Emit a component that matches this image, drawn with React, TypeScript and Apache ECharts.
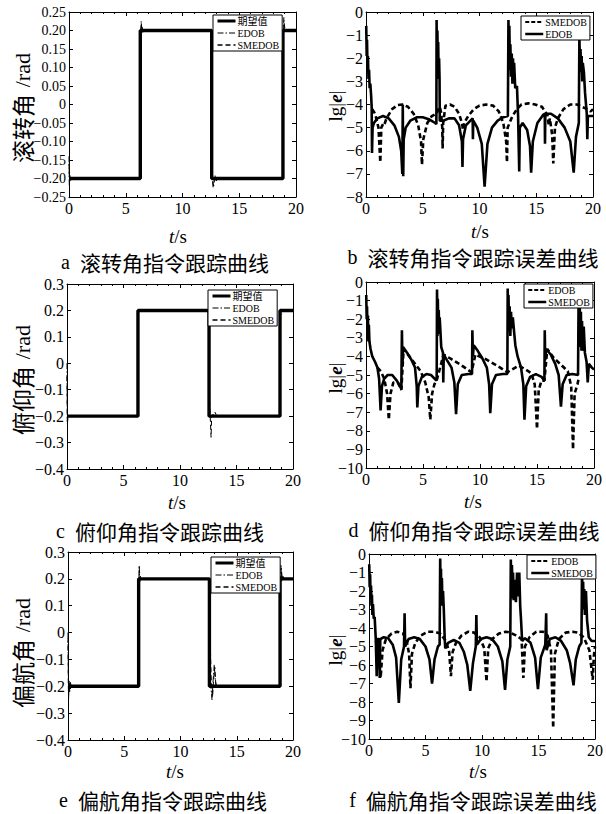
import React, { useEffect, useRef } from "react";
import * as echarts from "echarts";

// ---------- data (t in s) ----------
const desiredT = [0, 6.28, 6.28, 12.57, 12.57, 18.85, 18.85, 20];
const desiredV = [-0.2, -0.2, 0.2, 0.2, -0.2, -0.2, 0.2, 0.2];

const rollEDOB = [[0,-0.14],[0.03,-0.22],[0.08,-0.19],[0.15,-0.205],[0.3,-0.2],[6.28,-0.2],[6.33,0.2],[6.36,0.225],[6.4,0.21],[6.5,0.195],[6.6,0.2],[12.57,0.2],[12.6,0.0],[12.62,-0.2],[12.7,-0.225],[12.8,-0.205],[12.9,-0.195],[13.1,-0.2],[18.85,-0.2],[18.9,0.2],[18.93,0.235],[18.97,0.2],[19.1,0.2],[20,0.2]];
const rollSMEDOB = [[0,-0.16],[0.04,-0.21],[0.1,-0.2],[6.28,-0.2],[6.32,0.2],[6.4,0.215],[6.5,0.2],[12.57,0.2],[12.62,-0.2],[12.75,-0.22],[12.85,-0.19],[12.95,-0.21],[13.05,-0.2],[18.85,-0.2],[18.9,0.2],[18.95,0.22],[19.05,0.2],[20,0.2]];

const pitchEDOB = [[0,0.0],[0.03,-0.22],[0.1,-0.195],[0.2,-0.2],[6.28,-0.2],[6.33,0.2],[6.38,0.205],[6.5,0.2],[12.57,0.2],[12.62,-0.2],[12.8,-0.2],[13.0,-0.19],[13.1,-0.185],[13.2,-0.195],[13.3,-0.2],[18.85,-0.2],[18.9,0.18],[19.1,0.195],[19.2,0.2],[20,0.2]];
const pitchSMEDOB = [[0,-0.05],[0.03,-0.23],[0.1,-0.2],[6.28,-0.2],[6.33,0.2],[12.57,0.2],[12.62,-0.15],[12.75,-0.28],[12.8,-0.2],[12.9,-0.195],[13.0,-0.2],[18.85,-0.2],[18.9,0.19],[19.0,0.2],[20,0.2]];

const yawEDOB = [[0,0.0],[0.05,-0.25],[0.1,-0.18],[0.15,-0.22],[0.2,-0.185],[0.3,-0.2],[6.28,-0.2],[6.3,0.2],[6.33,0.25],[6.38,0.19],[6.45,0.21],[6.55,0.2],[12.57,0.2],[12.6,-0.1],[12.7,-0.2],[12.8,-0.25],[12.9,-0.18],[13.0,-0.12],[13.1,-0.18],[13.2,-0.2],[18.85,-0.2],[18.9,0.2],[18.93,0.25],[19.0,0.19],[19.1,0.21],[19.2,0.2],[20,0.2]];
const yawSMEDOB = [[0,-0.02],[0.04,-0.23],[0.1,-0.19],[0.2,-0.21],[0.3,-0.2],[6.28,-0.2],[6.31,0.2],[6.35,0.23],[6.42,0.2],[12.57,0.2],[12.65,-0.05],[12.75,-0.2],[12.85,-0.24],[12.95,-0.17],[13.05,-0.13],[13.15,-0.2],[18.85,-0.2],[18.9,0.2],[18.95,0.24],[19.05,0.2],[20,0.2]];

const rollErrEDOB = [[0.02,-0.6],[0.06,-1.9],[0.09,-1.2],[0.13,-2.4],[0.17,-1.9],[0.22,-2.9],[0.27,-2.5],[0.32,-3.3],[0.38,-3.1],[0.45,-3.6],[0.5,-4.1],[0.53,-6.1],[0.58,-5.0],[0.7,-4.8],[1.0,-4.6],[1.5,-4.5],[2.0,-4.6],[2.5,-4.9],[2.9,-5.4],[3.1,-6.0],[3.2,-7.0],[3.24,-4.0],[3.28,-7.1],[3.32,-5.5],[3.5,-5.0],[3.9,-4.7],[4.5,-4.55],[5.0,-4.55],[5.6,-4.65],[6.1,-4.8],[6.2,-4.85],[6.22,-0.35],[6.26,-2.8],[6.29,-0.8],[6.33,-2.4],[6.36,-1.3],[6.4,-2.9],[6.44,-2.0],[6.48,-2.9],[6.5,-4.7],[6.8,-4.7],[7.3,-4.6],[7.8,-4.6],[8.2,-4.9],[8.45,-5.6],[8.5,-6.7],[8.55,-5.5],[8.8,-4.9],[9.2,-4.7],[9.4,-4.6],[9.42,-5.5],[9.45,-4.7],[9.8,-5.0],[10.2,-5.7],[10.45,-7.55],[10.7,-5.7],[11.1,-5.0],[11.6,-4.7],[12.1,-4.55],[12.5,-4.5],[12.55,-0.35],[12.6,-2.2],[12.63,-0.6],[12.68,-2.5],[12.72,-1.4],[12.78,-2.8],[12.84,-1.8],[12.9,-3.1],[12.95,-2.0],[13.0,-3.0],[13.05,-2.2],[13.15,-3.3],[13.3,-3.2],[13.4,-4.5],[13.5,-6.9],[13.55,-5.0],[13.8,-4.8],[14.2,-5.1],[14.45,-5.8],[14.55,-6.95],[14.7,-5.6],[15.1,-4.8],[15.6,-4.45],[15.75,-4.4],[15.77,-5.7],[15.8,-4.4],[16.3,-4.4],[16.9,-4.6],[17.5,-5.0],[18.0,-5.6],[18.3,-6.95],[18.5,-5.4],[18.75,-4.8],[18.8,-1.0],[18.85,-2.4],[18.9,-1.6],[18.95,-2.6],[19.0,-1.9],[19.05,-3.0],[19.1,-2.2],[19.2,-2.6],[19.3,-3.5],[19.45,-4.4],[19.5,-5.5],[19.55,-4.5],[20,-4.5]];
const rollErrSMEDOB = [[0.55,-4.2],[0.8,-4.4],[1.1,-5.0],[1.26,-6.5],[1.35,-5.0],[1.5,-4.85],[1.6,-4.9],[1.8,-4.6],[2.3,-4.2],[2.8,-4.02],[3.2,-4.0],[3.7,-4.1],[4.2,-4.4],[4.6,-4.9],[4.85,-5.6],[4.93,-6.6],[5.05,-5.5],[5.4,-4.8],[5.8,-4.5],[6.2,-4.4],[6.5,-4.1],[6.6,-4.3],[6.72,-5.0],[6.75,-5.9],[6.8,-4.8],[7.0,-4.05],[7.4,-4.0],[7.8,-4.1],[8.2,-4.4],[8.45,-4.8],[8.55,-5.1],[8.65,-4.8],[9.0,-4.5],[9.5,-4.2],[10.0,-4.05],[10.6,-4.0],[11.2,-4.05],[11.7,-4.3],[12.1,-4.8],[12.35,-5.6],[12.42,-6.5],[12.48,-5.0],[12.9,-4.5],[13.3,-4.2],[13.7,-4.0],[14.3,-3.95],[14.9,-4.0],[15.5,-4.1],[15.9,-4.4],[16.0,-4.5],[16.1,-4.9],[16.2,-4.6],[16.4,-5.3],[16.5,-6.55],[16.65,-5.0],[16.9,-4.6],[17.4,-4.2],[18.0,-4.0],[18.6,-4.0],[19.0,-4.1],[19.5,-4.2],[19.8,-4.3],[20,-4.2]];

const pitchErrSMEDOB = [[0.02,-0.7],[0.06,-2.0],[0.09,-1.3],[0.13,-2.6],[0.17,-1.8],[0.21,-3.2],[0.25,-2.3],[0.3,-3.2],[0.4,-3.6],[0.55,-4.0],[0.8,-4.3],[1.0,-4.6],[1.15,-5.2],[1.28,-6.9],[1.4,-5.6],[1.6,-5.2],[1.9,-5.0],[2.3,-5.0],[2.7,-5.3],[3.1,-5.75],[3.15,-2.6],[3.2,-4.5],[3.25,-3.5],[3.6,-3.8],[4.0,-4.2],[4.3,-4.6],[4.45,-5.6],[4.5,-6.75],[4.6,-5.6],[4.9,-5.1],[5.3,-4.95],[5.7,-5.0],[6.1,-5.25],[6.2,-5.3],[6.23,-0.4],[6.27,-2.9],[6.3,-0.9],[6.34,-2.5],[6.38,-1.5],[6.42,-2.8],[6.46,-1.9],[6.5,-2.3],[6.6,-3.5],[6.75,-3.8],[6.78,-5.4],[6.82,-3.9],[7.1,-4.2],[7.5,-4.6],[7.75,-5.4],[7.9,-7.1],[8.05,-5.5],[8.4,-5.0],[9.0,-4.95],[9.3,-4.95],[9.33,-2.6],[9.38,-4.0],[9.45,-3.4],[9.8,-3.7],[10.2,-4.1],[10.6,-4.6],[10.8,-5.5],[10.9,-7.05],[11.05,-5.5],[11.4,-5.0],[12.0,-4.95],[12.4,-4.95],[12.43,-0.35],[12.47,-2.3],[12.5,-0.7],[12.55,-2.6],[12.6,-1.3],[12.66,-2.9],[12.72,-1.6],[12.8,-2.5],[12.88,-1.9],[12.95,-2.4],[13.1,-3.4],[13.3,-4.0],[13.6,-4.6],[13.8,-5.5],[13.9,-7.4],[14.05,-5.6],[14.4,-5.1],[14.9,-4.95],[15.4,-5.1],[15.65,-5.3],[15.68,-2.6],[15.72,-4.2],[15.8,-3.6],[16.2,-3.9],[16.6,-4.4],[16.9,-5.0],[17.1,-6.7],[17.25,-5.5],[17.6,-5.0],[18.1,-4.95],[18.6,-5.0],[18.65,-0.7],[18.7,-2.6],[18.75,-1.2],[18.8,-3.5],[18.85,-1.6],[18.9,-3.7],[18.95,-2.1],[19.0,-3.7],[19.1,-2.4],[19.2,-3.8],[19.35,-4.3],[19.45,-5.4],[19.55,-4.4],[19.8,-4.6],[20,-4.7]];
const pitchErrEDOB = [[1.0,-4.6],[1.3,-4.8],[1.6,-5.2],[1.85,-6.0],[2.0,-7.4],[2.15,-6.0],[2.4,-5.4],[2.8,-5.4],[3.1,-5.8],[3.3,-3.6],[3.8,-4.0],[4.3,-4.4],[4.8,-4.8],[5.2,-5.4],[5.5,-6.2],[5.64,-7.4],[5.8,-6.0],[6.0,-5.5],[6.2,-5.3],[6.8,-3.9],[7.5,-4.15],[8.3,-4.45],[9.25,-4.85],[9.6,-3.9],[10.5,-4.15],[11.5,-4.5],[12.4,-4.85],[13.4,-4.5],[14.0,-4.7],[14.5,-4.9],[14.8,-5.5],[15.0,-7.9],[15.15,-5.8],[15.4,-5.3],[15.65,-5.3],[15.9,-3.6],[16.5,-4.1],[17.2,-4.5],[17.7,-4.8],[18.0,-5.6],[18.16,-9.0],[18.3,-6.0],[18.55,-5.5],[18.65,-5.2]];

const yawErrSMEDOB = [[0.02,-0.55],[0.06,-1.8],[0.1,-1.1],[0.14,-2.3],[0.18,-1.7],[0.22,-2.8],[0.26,-2.2],[0.3,-3.3],[0.35,-2.7],[0.42,-3.5],[0.5,-3.4],[0.6,-4.6],[0.68,-6.6],[0.75,-4.6],[0.9,-4.6],[0.95,-6.7],[1.0,-4.6],[1.3,-4.5],[1.7,-4.55],[2.1,-4.9],[2.4,-5.6],[2.64,-8.05],[2.85,-5.7],[3.1,-5.0],[3.15,-3.2],[3.2,-5.0],[3.5,-4.6],[4.0,-4.5],[4.5,-4.6],[5.0,-5.0],[5.35,-5.7],[5.58,-7.0],[5.8,-5.7],[6.1,-5.0],[6.25,-4.9],[6.3,-0.25],[6.34,-2.2],[6.37,-0.8],[6.41,-2.5],[6.45,-1.3],[6.5,-2.8],[6.55,-2.0],[6.62,-3.0],[6.7,-4.6],[6.75,-5.1],[7.0,-4.8],[7.5,-4.65],[8.0,-4.8],[8.4,-5.3],[8.7,-6.0],[8.96,-7.4],[9.2,-5.9],[9.45,-5.0],[9.5,-3.3],[9.55,-4.9],[9.9,-4.6],[10.4,-4.5],[10.9,-4.6],[11.4,-5.0],[11.8,-5.8],[12.04,-7.35],[12.25,-5.7],[12.5,-5.0],[12.55,-0.3],[12.6,-2.0],[12.65,-0.6],[12.7,-2.4],[12.75,-1.0],[12.8,-2.5],[12.9,-1.4],[13.0,-2.6],[13.1,-1.0],[13.2,-2.3],[13.3,-1.0],[13.38,-2.8],[13.45,-3.5],[13.55,-4.7],[13.8,-4.55],[14.3,-4.8],[14.7,-5.6],[14.95,-7.3],[15.2,-5.6],[15.6,-4.9],[15.68,-3.2],[15.72,-5.2],[16.0,-4.6],[16.5,-4.5],[17.0,-4.7],[17.5,-5.2],[17.8,-5.9],[18.1,-7.1],[18.3,-5.7],[18.6,-5.0],[18.8,-4.8],[18.85,-0.8],[18.9,-2.8],[18.95,-1.5],[19.0,-3.0],[19.05,-1.9],[19.1,-3.3],[19.2,-2.0],[19.3,-3.6],[19.45,-4.5],[19.7,-4.7],[20,-4.7]];
const yawErrEDOB = [[0.6,-4.7],[0.8,-5.0],[1.03,-6.7],[1.2,-5.2],[1.5,-4.6],[2.0,-4.3],[2.5,-4.2],[3.0,-4.3],[3.3,-4.6],[3.55,-5.4],[3.67,-7.25],[3.8,-5.4],[4.1,-4.8],[4.6,-4.4],[5.2,-4.2],[5.8,-4.2],[6.3,-4.3],[6.8,-4.7],[7.1,-5.3],[7.25,-6.6],[7.4,-5.3],[7.7,-4.8],[8.2,-4.4],[8.8,-4.2],[9.3,-4.25],[9.8,-4.5],[10.2,-5.1],[10.4,-6.9],[10.55,-5.1],[10.9,-4.6],[11.5,-4.3],[12.1,-4.2],[12.5,-4.25],[13.0,-4.4],[13.5,-4.6],[13.66,-6.7],[13.8,-5.0],[14.2,-4.5],[14.8,-4.2],[15.4,-4.2],[15.8,-4.4],[16.1,-5.2],[16.3,-9.4],[16.45,-5.4],[16.8,-4.6],[17.4,-4.25],[18.0,-4.2],[18.5,-4.25],[19.0,-4.5],[19.5,-5.2],[19.8,-6.8],[19.9,-5.5],[20,-5.0]];

const xTicks = { min: 0, max: 20, interval: 5 };
const angleNames = ["滚转角 /rad", "俯仰角 /rad", "偏航角 /rad"];
const captions = [
  ["a", "滚转角指令跟踪曲线"], ["b", "滚转角指令跟踪误差曲线"],
  ["c", "俯仰角指令跟踪曲线"], ["d", "俯仰角指令跟踪误差曲线"],
  ["e", "偏航角指令跟踪曲线"], ["f", "偏航角指令跟踪误差曲线"],
];

// ---------- styles / layout ----------
const SERIF = "'Liberation Serif', 'DejaVu Serif', serif";
const CJK = "'Noto Sans CJK SC', sans-serif";
const DASH = [5, 3];
const DASHDOT = [6, 2, 1.5, 2];

const desired = desiredT.map((t, i) => [t, desiredV[i]]);

type P = {
  grid: any; y: [number, number, number]; dec: number; yFont: number;
  series: { name: string; data: number[][]; w: number; type: any }[];
  legend: { left: number; top: number; h: number; items: { name: string; w: number; type: any }[] };
};

const thick = 2.6;
const bold = 3.4;
const panels: P[] = [
  {
    grid: { left: 69, top: 12, width: 227, height: 185 }, y: [-0.25, 0.25, 0.05], dec: 2, yFont: 14,
    series: [
      { name: "期望值", data: desired, w: bold, type: "solid" },
      { name: "EDOB", data: rollEDOB, w: 1, type: DASHDOT },
      { name: "SMEDOB", data: rollSMEDOB, w: 1, type: DASH },
    ],
    legend: { left: 213, top: 15, h: 9, items: [
      { name: "期望值", w: 3, type: "solid" }, { name: "EDOB", w: 1, type: DASHDOT }, { name: "SMEDOB", w: 1.5, type: DASH }] },
  },
  {
    grid: { left: 366, top: 12, width: 227, height: 185 }, y: [-8, 0, 1], dec: 0, yFont: 16,
    series: [
      { name: "SMEDOB", data: rollErrSMEDOB, w: thick, type: DASH },
      { name: "EDOB", data: rollErrEDOB, w: thick, type: "solid" },
    ],
    legend: { left: 521, top: 16, h: 9, items: [
      { name: "SMEDOB", w: 2, type: [4, 2] }, { name: "EDOB", w: 2.5, type: "solid" }] },
  },
  {
    grid: { left: 67, top: 284, width: 226, height: 185 }, y: [-0.4, 0.3, 0.1], dec: 1, yFont: 16,
    series: [
      { name: "期望值", data: desired, w: bold, type: "solid" },
      { name: "EDOB", data: pitchEDOB, w: 1, type: DASHDOT },
      { name: "SMEDOB", data: pitchSMEDOB, w: 1, type: DASH },
    ],
    legend: { left: 208, top: 290, h: 9, items: [
      { name: "期望值", w: 3, type: "solid" }, { name: "EDOB", w: 1, type: DASHDOT }, { name: "SMEDOB", w: 1.5, type: DASH }] },
  },
  {
    grid: { left: 366, top: 282, width: 228, height: 186 }, y: [-10, 0, 1], dec: 0, yFont: 16,
    series: [
      { name: "EDOB", data: pitchErrEDOB, w: thick, type: DASH },
      { name: "SMEDOB", data: pitchErrSMEDOB, w: thick, type: "solid" },
    ],
    legend: { left: 524, top: 284, h: 9, items: [
      { name: "EDOB", w: 2, type: [4, 2] }, { name: "SMEDOB", w: 2.5, type: "solid" }] },
  },
  {
    grid: { left: 68, top: 552, width: 225, height: 188 }, y: [-0.4, 0.3, 0.1], dec: 1, yFont: 16,
    series: [
      { name: "期望值", data: desired, w: bold, type: "solid" },
      { name: "EDOB", data: yawEDOB, w: 1, type: DASHDOT },
      { name: "SMEDOB", data: yawSMEDOB, w: 1, type: DASH },
    ],
    legend: { left: 211, top: 557, h: 9, items: [
      { name: "期望值", w: 3, type: "solid" }, { name: "EDOB", w: 1, type: DASHDOT }, { name: "SMEDOB", w: 1.5, type: DASH }] },
  },
  {
    grid: { left: 369, top: 554, width: 227, height: 185 }, y: [-10, 0, 1], dec: 0, yFont: 16,
    series: [
      { name: "EDOB", data: yawErrEDOB, w: thick, type: DASH },
      { name: "SMEDOB", data: yawErrSMEDOB, w: thick, type: "solid" },
    ],
    legend: { left: 527, top: 555, h: 9, items: [
      { name: "EDOB", w: 2, type: [4, 2] }, { name: "SMEDOB", w: 2.5, type: "solid" }] },
  },
];

const fmt = (dec: number) => (v: number) => {
  if (Math.abs(v) < 1e-9) return "0";
  const s = Math.abs(v).toFixed(dec);
  return (v < 0 ? "\u2212" : "") + s;
};

// axis label positions (layout)
const yNamePos = [[22, 108], [335, 106], [22, 380], [335, 378], [22, 653], [335, 650]];
const xNamePos = [[178, 236], [480, 231], [177, 502], [473, 501], [175, 771], [478, 771]];
const capPos = [[165, 262], [473, 257], [160, 531], [474, 530], [163, 800], [473, 800]];

function buildOption() {
  const grid: any[] = [], xAxis: any[] = [], yAxis: any[] = [], series: any[] = [], legend: any[] = [];
  const axisLine = { show: true, onZero: false, lineStyle: { color: "#000", width: 1 } };
  panels.forEach((p, i) => {
    grid.push({ ...p.grid, containLabel: false });
    const xb = {
      type: "value", gridIndex: i, ...xTicks, position: "bottom",
      axisLine, axisTick: { show: true, inside: true, length: 4, lineStyle: { color: "#000" } },
      minorTick: { show: true, splitNumber: 5, length: 2, lineStyle: { color: "#000" } },
      axisLabel: { show: true, margin: 3, color: "#000", fontFamily: SERIF, fontSize: 16 },
      splitLine: { show: false },
    };
    xAxis.push(xb);
    xAxis.push({ ...xb, position: "top", axisLabel: { show: false } });
    const yl = {
      type: "value", gridIndex: i, min: p.y[0], max: p.y[1], interval: p.y[2], position: "left",
      axisLine, axisTick: { show: true, inside: true, length: 4, lineStyle: { color: "#000" } },
      axisLabel: { show: true, margin: 3, color: "#000", fontFamily: SERIF, fontSize: p.yFont, formatter: fmt(p.dec) },
      splitLine: { show: false },
    };
    yAxis.push(yl);
    yAxis.push({ ...yl, position: "right", axisLabel: { show: false } });
    p.series.forEach((s) => {
      series.push({
        type: "line", name: s.name, xAxisIndex: 2 * i, yAxisIndex: 2 * i, data: s.data,
        symbol: "none", lineStyle: { color: "#000", width: s.w, type: s.type }, silent: true,
      });
    });
    legend.push({
      left: p.legend.left, top: p.legend.top, orient: "vertical", itemGap: 2,
      itemWidth: 18, itemHeight: p.legend.h, padding: [1, 3, 1, 3],
      backgroundColor: "#fff", borderColor: "#000", borderWidth: 1, borderRadius: 0,
      selectedMode: false,
      textStyle: { fontSize: 10, color: "#000", fontFamily: `${SERIF}, ${CJK}`, padding: [0, 0, 0, -3] },
      data: p.legend.items.map((it) => ({
        name: it.name,
        lineStyle: { color: "#000", width: it.w, type: it.type },
        itemStyle: { opacity: 0 },
      })),
    });
  });

  const graphic: any[] = [];
  panels.forEach((p, i) => {
    const [yx, yy] = yNamePos[i];
    if (i % 2 === 0) {
      const [cn, unit] = angleNames[i / 2].split(" ");
      graphic.push({
        type: "text", x: yx, y: yy, rotation: Math.PI / 2,
        style: {
          text: `{c|${cn}}  {r|${unit}}`,
          align: "center", verticalAlign: "middle",
          rich: {
            c: { fontFamily: CJK, fontSize: 23, fill: "#000" },
            r: { fontFamily: SERIF, fontSize: 22, fill: "#000" },
          },
        },
      });
    } else {
      graphic.push({
        type: "text", x: yx, y: yy, rotation: Math.PI / 2,
        style: {
          text: "{n|lg|}{e|e}{n||}", align: "center", verticalAlign: "middle",
          rich: {
            n: { fontFamily: SERIF, fontSize: 19, fill: "#000" },
            e: { fontFamily: SERIF, fontSize: 19, fontStyle: "italic", fontWeight: "bold", fill: "#000" },
          },
        },
      });
    }
    const [xx, xy] = xNamePos[i];
    graphic.push({
      type: "text", x: xx, y: xy,
      style: {
        text: "{i|t}{n|/s}", align: "center", verticalAlign: "middle",
        rich: {
          i: { fontFamily: SERIF, fontSize: 19, fontStyle: "italic", fill: "#000" },
          n: { fontFamily: SERIF, fontSize: 19, fill: "#000" },
        },
      },
    });
    const [cx, cy] = capPos[i];
    graphic.push({
      type: "text", x: cx, y: cy,
      style: {
        text: `{l|${captions[i][0]}}   {c|${captions[i][1]}}`, align: "center", verticalAlign: "middle",
        rich: {
          l: { fontFamily: SERIF, fontSize: 20, fill: "#000", lineHeight: 22 },
          c: { fontFamily: CJK, fontSize: 21, fill: "#000", lineHeight: 22 },
        },
      },
    });
  });

  return {
    animation: false,
    backgroundColor: "#fff",
    textStyle: { fontFamily: SERIF },
    grid, xAxis, yAxis, series, legend, graphic,
  };
}

export default function App() {
  const ref = useRef<HTMLDivElement>(null);
  useEffect(() => {
    if (!ref.current) return;
    const chart = echarts.init(ref.current, undefined, { renderer: "svg" });
    chart.setOption(buildOption() as any);
    return () => chart.dispose();
  }, []);
  return (
    <div
      ref={ref}
      style={{ position: "fixed", left: 0, top: 0, width: 606, height: 814, background: "#fff" }}
    />
  );
}
